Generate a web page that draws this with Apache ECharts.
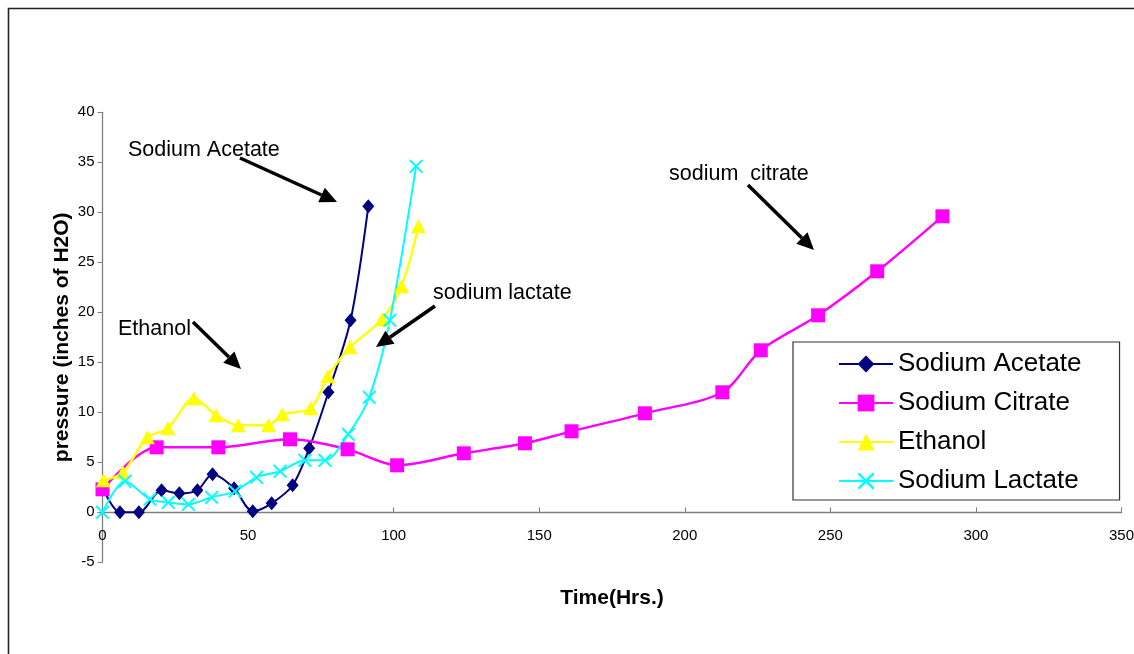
<!DOCTYPE html>
<html>
<head>
<meta charset="utf-8">
<script src="https://cdn.jsdelivr.net/npm/echarts@6/dist/echarts.min.js"></script>
<style>
  html, body { margin: 0; padding: 0; background: #fff; }
  #chart { width: 1134px; height: 654px; }
</style>
</head>
<body>
<div id="chart"></div>
<script>
// Reactor pressure over time for four carbon sources
const acetateHours    = [0, 6, 12.5, 20.3, 26.4, 32.6, 37.8, 45.2, 51.6, 58.1, 65.3, 71, 77.6, 85.2, 91.3];
const acetatePressure = [2.5, 0, 0, 2.2, 1.9, 2.2, 3.8, 2.4, 0.1, 0.9, 2.7, 6.4, 12.0, 19.2, 30.6];

const citrateHours    = [0, 18.6, 39.8, 64.4, 84.2, 101.2, 124.1, 145.1, 161.1, 186.3, 212.9, 226.1, 245.8, 266.1, 288.5];
const citratePressure = [2.3, 6.5, 6.5, 7.3, 6.3, 4.7, 5.9, 6.9, 8.1, 9.9, 12.0, 16.2, 19.7, 24.1, 29.6];

const ethanolHours    = [0.3, 7, 15.4, 22.4, 31.4, 39, 46.6, 57, 61.7, 71.5, 77.4, 85, 96, 102.7, 108.5];
const ethanolPressure = [3.2, 4.0, 7.5, 8.4, 11.4, 9.7, 8.7, 8.7, 9.8, 10.4, 13.6, 16.5, 19.3, 22.6, 28.6];

const lactateHours    = [0, 7.7, 16.3, 22.6, 29.5, 37.5, 45.5, 52.9, 61, 69.5, 76.4, 84.4, 91.6, 98.7, 107.7];
const lactatePressure = [0, 3.1, 1.3, 1.0, 0.8, 1.5, 2.1, 3.5, 4.1, 5.2, 5.2, 7.8, 11.5, 19.2, 34.6];

const seriesNames = ['Sodium Acetate', 'Sodium Citrate', 'Ethanol', 'Sodium Lactate'];

// axis ranges
const xMin = 0, xMax = 350, xStep = 50;
const yMin = -5, yMax = 40, yStep = 5;

const FONT = '"Liberation Sans", Arial, sans-serif';
const crossSymbol = 'path://M0,1L1,0L5,4L9,0L10,1L6,5L10,9L9,10L5,6L1,10L0,9L4,5Z';

// plot area
const GRID = { left: 102.5, right: 12.5, top: 112.3, bottom: 91.7 };
const plotHeight = 654 - GRID.top - GRID.bottom;
// the time axis crosses the pressure axis at zero
const xAxisLift = (0 - yMin) / (yMax - yMin) * plotHeight;

function pairs(xs, ys) { return xs.map((x, i) => [x, ys[i]]); }

// straight arrow with a filled head at (x2, y2)
function arrow(x1, y1, x2, y2) {
  const ang = Math.atan2(y2 - y1, x2 - x1);
  const len = 17, half = 8;
  const bx = x2 - len * Math.cos(ang), by = y2 - len * Math.sin(ang);
  const px = -Math.sin(ang) * half, py = Math.cos(ang) * half;
  return [
    { type: 'line', shape: { x1: x1, y1: y1, x2: bx, y2: by },
      style: { stroke: '#000', lineWidth: 3.5 }, z: 50 },
    { type: 'polygon', shape: { points: [[x2, y2], [bx + px, by + py], [bx - px, by - py]] },
      style: { fill: '#000' }, z: 50 }
  ];
}

function note(text, x, y) {
  return { type: 'text', x: x, y: y, z: 50,
    style: { text: text, font: '21.5px ' + FONT, fill: '#000', textVerticalAlign: 'middle' } };
}

const chart = echarts.init(document.getElementById('chart'), null, { renderer: 'canvas' });

chart.setOption({
  backgroundColor: '#fff',
  animation: false,
  grid: Object.assign({ containLabel: false, outerBoundsMode: 'none' }, GRID),
  xAxis: {
    type: 'value', min: xMin, max: xMax, interval: xStep,
    offset: -xAxisLift,
    name: 'Time(Hrs.)', nameLocation: 'middle', nameGap: 75, nameMoveOverlap: false,
    nameTextStyle: { fontFamily: FONT, fontSize: 21, fontWeight: 'bold', color: '#000' },
    axisLine: { onZero: false, lineStyle: { color: '#808080', width: 1.3 } },
    axisTick: { show: true, inside: true, length: 5, lineStyle: { color: '#808080' } },
    axisLabel: { fontFamily: FONT, fontSize: 15, color: '#000', margin: 16 },
    splitLine: { show: false }
  },
  yAxis: {
    type: 'value', min: yMin, max: yMax, interval: yStep,
    name: 'pressure (inches of H2O)', nameLocation: 'middle', nameGap: 30, nameRotate: 90,
    nameMoveOverlap: false,
    nameTextStyle: { fontFamily: FONT, fontSize: 21, fontWeight: 'bold', color: '#000' },
    axisLine: { show: true, onZero: false, lineStyle: { color: '#808080', width: 1.3 } },
    axisTick: { show: true, length: 5, lineStyle: { color: '#808080' } },
    axisLabel: { fontFamily: FONT, fontSize: 15, color: '#000', margin: 8 },
    splitLine: { show: false }
  },
  legend: {
    orient: 'vertical', left: 793, top: 342,
    data: seriesNames,
    itemWidth: 54, itemHeight: 21, itemGap: 13,
    padding: [9, 38, 6, 45],
    borderColor: '#333', borderWidth: 1.2,
    textStyle: { fontFamily: FONT, fontSize: 26, color: '#000' }
  },
  series: [
    { name: seriesNames[0], type: 'line', smooth: 0.3, data: pairs(acetateHours, acetatePressure),
      symbol: 'diamond', symbolSize: [12, 14], color: '#000080',
      lineStyle: { width: 2 }, itemStyle: { color: '#000080' } },
    { name: seriesNames[1], type: 'line', smooth: 0.3, data: pairs(citrateHours, citratePressure),
      symbol: 'rect', symbolSize: 14, color: '#FF00FF',
      lineStyle: { width: 2.4 }, itemStyle: { color: '#FF00FF' } },
    { name: seriesNames[2], type: 'line', smooth: 0.3, data: pairs(ethanolHours, ethanolPressure),
      symbol: 'triangle', symbolSize: [15, 14], color: '#FFFF00',
      lineStyle: { width: 2.4 }, itemStyle: { color: '#FFFF00' } },
    { name: seriesNames[3], type: 'line', smooth: 0.3, data: pairs(lactateHours, lactatePressure),
      symbol: crossSymbol, symbolSize: 14, color: '#00FFFF',
      lineStyle: { width: 2 }, itemStyle: { color: '#00FFFF' } }
  ],
  graphic: [
    { type: 'rect', shape: { x: 8.5, y: 8.5, width: 1200, height: 700 },
      style: { fill: null, stroke: '#222', lineWidth: 1.6 }, z: 60, silent: true },
    note('Sodium Acetate', 128, 150),
    note('Ethanol', 118, 329),
    note('sodium lactate', 433, 293),
    note('sodium  citrate', 669, 174),
    ...arrow(240, 158, 337, 202),
    ...arrow(193, 322, 241, 369),
    ...arrow(435, 306, 376, 347),
    ...arrow(748, 185, 814, 250)
  ]
});
</script>
</body>
</html>
